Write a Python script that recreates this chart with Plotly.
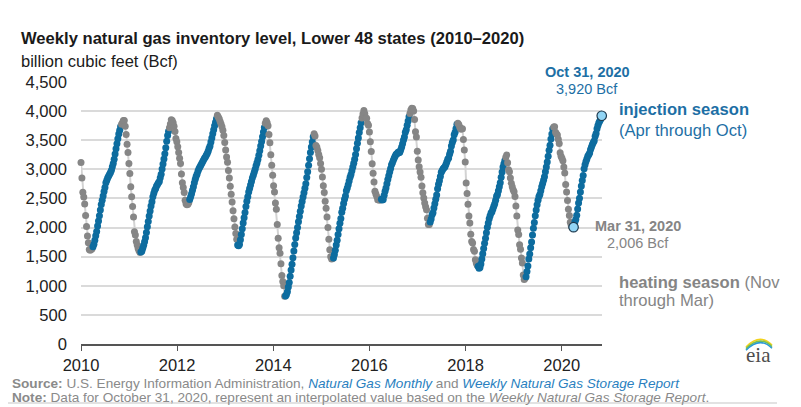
import pandas as pd
import plotly.graph_objects as go

# ---------------- data (weekly, Bcf; Fridays of each year) ----------------
weekly_2010 = [3117, 2851, 2607, 2523, 2406,
               2207, 2020, 1853, 1741,
               1625, 1612, 1624, 1638,
               1669, 1714, 1783, 1859, 1931,
               2025, 2114, 2202, 2302,
               2397, 2471, 2544, 2619,
               2690, 2768, 2814, 2856, 2886,
               2914, 2947, 2985, 3045,
               3101, 3175, 3265, 3354,
               3438, 3524, 3607, 3671, 3735,
               3776, 3800, 3840, 3837,
               3740, 3600, 3431, 3290, 3100]
weekly_2011 = [2930, 2700, 2530, 2360,
               2180, 1930, 1870, 1760,
               1700, 1640, 1600, 1570,
               1580, 1595, 1646, 1694, 1757,
               1826, 1917, 2012, 2105,
               2200, 2285, 2370, 2444,
               2528, 2588, 2640, 2672, 2712,
               2740, 2770, 2792, 2856,
               2917, 3004, 3090, 3179, 3268,
               3370, 3482, 3579, 3652,
               3716, 3780, 3852, 3840,
               3800, 3742, 3650, 3528, 3472]
weekly_2012 = [3390, 3290, 3190, 3100,
               2920, 2770, 2690, 2600,
               2470, 2410, 2390, 2400, 2430,
               2480, 2530, 2580, 2640,
               2700, 2770, 2830, 2880,
               2920, 2970, 3010, 3040, 3070,
               3100, 3130, 3160, 3190,
               3210, 3240, 3270, 3310, 3360,
               3400, 3470, 3540, 3610,
               3680, 3750, 3810, 3870,
               3929, 3900, 3870, 3820, 3780,
               3730, 3670, 3580, 3460]
weekly_2013 = [3330, 3210, 3120, 2980,
               2850, 2710, 2570, 2440,
               2290, 2150, 2010, 1900, 1800,
               1700, 1687, 1710, 1790,
               1880, 1980, 2080, 2170, 2260,
               2360, 2450, 2530, 2610,
               2670, 2730, 2790, 2850,
               2900, 2950, 3000, 3060, 3110,
               3170, 3240, 3320, 3400,
               3480, 3560, 3640, 3720,
               3790, 3834, 3800, 3750, 3600,
               3456, 3250, 3070, 2900]
weekly_2014 = [2717, 2610, 2423, 2316, 2054,
               1815, 1654, 1559, 1378,
               1177, 1072, 1001, 822,
               826, 850, 899, 981,
               1055, 1165, 1270, 1370, 1480,
               1599, 1710, 1819, 1910,
               2003, 2100, 2190, 2280,
               2370, 2449, 2523, 2598, 2673,
               2751, 2861, 2958, 3070,
               3182, 3287, 3382, 3469, 3560,
               3611, 3571, 3409, 3380,
               3324, 3254, 3200, 3100]
weekly_2015 = [3000, 2870, 2720, 2600, 2450,
               2330, 2180, 2000, 1800,
               1620, 1500, 1461, 1470,
               1479, 1536, 1610, 1700,
               1781, 1882, 1980, 2075, 2157,
               2264, 2330, 2413, 2488,
               2544, 2632, 2680, 2735, 2800,
               2865, 2910, 2977, 3042,
               3106, 3175, 3255, 3353,
               3450, 3537, 3633, 3714, 3800,
               3880, 3950, 4009, 3956,
               3880, 3877, 3788, 3756]
weekly_2016 = [3643, 3475, 3307, 3097, 2934,
               2782, 2622, 2576, 2535,
               2478, 2480, 2468, 2480,
               2486, 2473, 2480, 2554, 2625,
               2681, 2754, 2825, 2889,
               2954, 3016, 3078, 3115,
               3154, 3196, 3229, 3261, 3268,
               3294, 3283, 3295, 3335,
               3382, 3441, 3502, 3556, 3636,
               3682, 3759, 3832, 3905,
               3959, 4017, 4047, 4044,
               4000, 3855, 3646, 3556, 3311]
weekly_2017 = [3160, 3043, 2954, 2866,
               2712, 2598, 2509, 2420,
               2359, 2306, 2159, 2051, 2052,
               2094, 2148, 2222, 2256,
               2336, 2411, 2486, 2561,
               2667, 2745, 2806, 2878, 2950,
               2980, 3009, 3026, 3046,
               3082, 3128, 3174, 3196,
               3257, 3311, 3402, 3463, 3505,
               3592, 3637, 3701, 3775,
               3790, 3772, 3726, 3693,
               3694, 3695, 3513, 3331, 3126]
weekly_2018 = [2767, 2584, 2401, 2197,
               2078, 1884, 1760, 1736,
               1625, 1593, 1446, 1391, 1354,
               1335, 1299, 1313, 1375,
               1458, 1550, 1641, 1732,
               1817, 1909, 2005, 2080, 2152,
               2203, 2249, 2273, 2319,
               2365, 2411, 2471, 2536, 2566,
               2634, 2702, 2768, 2866,
               2956, 3039, 3095, 3150,
               3208, 3247, 3113, 2991, 2958,
               2850, 2760, 2700, 2650]
weekly_2019 = [2614, 2533, 2370, 2197,
               1960, 1882, 1705, 1628,
               1479, 1390, 1186, 1107, 1130,
               1155, 1247, 1339, 1462,
               1547, 1653, 1753, 1872, 1986,
               2088, 2203, 2301, 2390,
               2471, 2533, 2569, 2634,
               2699, 2755, 2814, 2873, 2957,
               3041, 3125, 3224, 3326,
               3415, 3519, 3606, 3695,
               3729, 3732, 3638, 3610, 3591,
               3518, 3445, 3284, 3226]
weekly_2020 = [3192, 3148, 3040, 2939, 2741,
               2609, 2466, 2316, 2207,
               2091, 2034, 2005, 2024,
               2024, 2097, 2140, 2210,
               2319, 2422, 2503, 2612, 2714,
               2807, 2892, 3012, 3077,
               3133, 3178, 3223, 3249, 3282,
               3340, 3383, 3428, 3462,
               3492, 3570, 3614, 3695,
               3755, 3801, 3831, 3860, 3919]

years = [2010, 2011, 2012, 2013, 2014, 2015, 2016, 2017, 2018, 2019, 2020]
weekly_by_year = [weekly_2010, weekly_2011, weekly_2012, weekly_2013, weekly_2014,
                  weekly_2015, weekly_2016, weekly_2017, weekly_2018, weekly_2019,
                  weekly_2020]

highlight_dates = ["2020-03-31", "2020-10-31"]
highlight_values = [2006, 3920]

x_tick_years = [2010, 2012, 2014, 2016, 2018, 2020]

# ---------------- build series ----------------
dates, values = [], []
for yr, vals in zip(years, weekly_by_year):
    fr = pd.date_range(f"{yr}-01-01", f"{yr}-12-31", freq="W-FRI")
    assert len(fr) >= len(vals), (yr, len(fr), len(vals))
    dates.extend(list(fr[:len(vals)]))
    values.extend(vals)

BLUE = "#0d6c9f"
GRAY = "#868686"
colors = [BLUE if 4 <= d.month <= 10 else GRAY for d in dates]

fig = go.Figure()
fig.add_trace(go.Scatter(x=dates + [pd.Timestamp(highlight_dates[1])],
                         y=values + [highlight_values[1]], mode="lines",
                         line=dict(color="#d3d3d3", width=2), hoverinfo="skip",
                         cliponaxis=False))
fig.add_trace(go.Scatter(x=dates, y=values, mode="markers",
                         marker=dict(size=7, color=colors, line=dict(width=0)),
                         cliponaxis=False))
fig.add_trace(go.Scatter(x=highlight_dates, y=highlight_values, mode="markers",
                         marker=dict(size=9.5, color="#92d5f5",
                                     line=dict(color="#1d3a4f", width=1.2)),
                         cliponaxis=False))

# The page body adds an 8px offset; positions below are given in reference
# pixel coordinates and shifted by OFF.
OFF = 8
W, H = 801 - OFF, 407 - OFF
PLOT_L, PLOT_R, PLOT_T, PLOT_B = 81, 602, 82, 344  # reference pixels
L = PLOT_L - OFF
R = W - (PLOT_R - OFF)
T = PLOT_T - OFF
B = H - (PLOT_B - OFF)
PW, PH = W - L - R, H - T - B


def px(x):
    return (x - OFF - L) / PW


def py(y):
    return (H - B - (y - OFF)) / PH


FONT = "Liberation Sans, Arial, sans-serif"
TBLUE = "#1d6fa5"
TGRAY = "#858585"

ann = []


def add(text, x, y, size=16.6, color="#1a1a1a", xanchor="left"):
    ann.append(dict(text=text, x=px(x), y=py(y), xref="paper", yref="paper",
                    xanchor=xanchor, yanchor="middle", showarrow=False,
                    font=dict(family=FONT, size=size, color=color)))


add("<b>Weekly natural gas inventory level, Lower 48 states (2010\u20132020)</b>", 19, 39, 16.6)
add("billion cubic feet (Bcf)", 19, 61, 16.5)
add("<b>Oct 31, 2020</b>", 587, 72, 14.5, TBLUE, "center")
add("3,920 Bcf", 587, 89, 14.5, TBLUE, "center")
add("<b>injection season</b>", 617, 110, 16.6, TBLUE)
add("(Apr through Oct)", 617, 130, 16.6, TBLUE)
add("<b>Mar 31, 2020</b>", 638, 226, 14.5, TGRAY, "center")
add("2,006 Bcf", 638, 243, 14.5, TGRAY, "center")
add("<b>heating season</b> (Nov", 617, 282, 16.6, TGRAY)
add("through Mar)", 617, 300, 16.6, TGRAY)
add("<b>Source:</b> U.S. Energy Information Administration, "
    "<i><span style='color:#2a7fc0'>Natural Gas Monthly</span></i> and "
    "<i><span style='color:#2a7fc0'>Weekly Natural Gas Storage Report</span></i>",
    10, 383, 13.6, "#8a8a8a")
add("<b>Note:</b> Data for October 31, 2020, represent an interpolated value based on the "
    "<i>Weekly Natural Gas Storage Report</i>.", 10, 397, 13.6, "#8a8a8a")
ann.append(dict(text="eia", x=px(758), y=py(355), xref="paper", yref="paper",
                xanchor="center", yanchor="middle", showarrow=False,
                font=dict(family="Liberation Serif, DejaVu Serif, serif", size=21,
                          color="#4d4d4d")))

shapes = []


def line(x0, y0, x1, y1, color="#d0d0d0", width=2):
    shapes.append(dict(type="line", xref="paper", yref="paper", x0=px(x0), y0=py(y0),
                       x1=px(x1), y1=py(y1), line=dict(color=color, width=width)))


line(798, OFF, 798, 407)
line(OFF, 403, 777, 403, "#d8d8d8", 1.5)


def arc(y_off, color):
    p = (f"M {px(746)},{py(347 + y_off)} Q {px(760)},{py(333 + y_off)} "
         f"{px(772)},{py(345 + y_off)}")
    shapes.append(dict(type="path", xref="paper", yref="paper", path=p,
                       line=dict(color=color, width=1.6)))


arc(0, "#f2d21b")
arc(1.6, "#7cc04b")
arc(3.2, "#2b9ad5")

fig.update_layout(
    width=W, height=H, margin=dict(l=L, r=R, t=T, b=B),
    paper_bgcolor="white", plot_bgcolor="white", showlegend=False,
    font=dict(family=FONT, size=16, color="#222222"),
    annotations=ann, shapes=shapes,
    xaxis=dict(type="date", range=["2010-01-01", "2020-11-02"],
               tickvals=[f"{y}-01-01" for y in x_tick_years],
               ticktext=[str(y) for y in x_tick_years],
               ticks="outside", ticklen=5, tickwidth=1.2, tickcolor="#555555",
               showline=True, linecolor="#555555", linewidth=1.5,
               showgrid=False, zeroline=False,
               tickfont=dict(family=FONT, size=16.5, color="#222222")),
    yaxis=dict(range=[0, 4500], dtick=500, tickformat=",",
               showgrid=True, gridcolor="#dadada", gridwidth=1.5,
               showline=False, zeroline=False, ticks="",
               ticklabelstandoff=13,
               tickfont=dict(family=FONT, size=16.6, color="#222222")),
)

fig.write_html("out.html")
